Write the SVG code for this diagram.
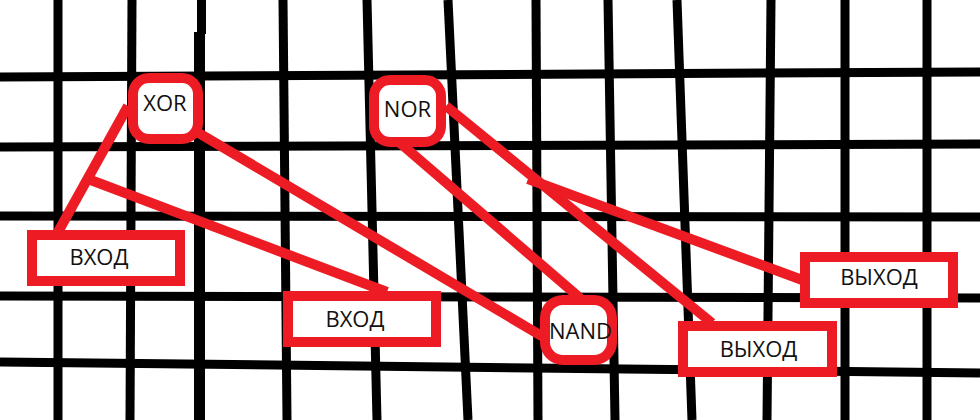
<svg xmlns="http://www.w3.org/2000/svg" width="980" height="420" viewBox="0 0 980 420">
  <style>
    .g { stroke: #000; stroke-width: 9; fill: none; }
    .c { stroke: #ED1C24; stroke-width: 10; fill: none; }
    .n { fill: #fff; stroke: #ED1C24; stroke-width: 10; }
    .t { font-family: "Open Sans", "Noto Sans", "Liberation Sans", sans-serif; font-size: 22px; fill: #111; text-anchor: middle; }
  </style>
  <rect x="0" y="0" width="980" height="420" fill="#fff"/>
  <g id="grid">
    <line class="g" x1="0" y1="77" x2="980" y2="72"/>
    <line class="g" x1="0" y1="147" x2="980" y2="144"/>
    <line class="g" x1="0" y1="216" x2="980" y2="217"/>
    <line class="g" x1="0" y1="296" x2="980" y2="298"/>
    <line class="g" x1="0" y1="362" x2="980" y2="373"/>
    <line class="g" x1="58" y1="0" x2="58" y2="420"/>
    <line class="g" x1="132" y1="0" x2="130" y2="420"/>
    <line class="g" x1="201.5" y1="0" x2="201.5" y2="34"/>
    <line class="g" x1="199.5" y1="32" x2="199.5" y2="420" style="stroke-width:11"/>
    <line class="g" x1="283" y1="0" x2="287" y2="420"/>
    <line class="g" x1="367" y1="0" x2="377" y2="420"/>
    <line class="g" x1="448" y1="0" x2="468" y2="420"/>
    <line class="g" x1="536" y1="0" x2="538" y2="420"/>
    <line class="g" x1="608" y1="0" x2="615" y2="420"/>
    <line class="g" x1="677" y1="0" x2="692" y2="420"/>
    <line class="g" x1="771" y1="0" x2="767" y2="420"/>
    <line class="g" x1="845" y1="0" x2="845" y2="420"/>
    <line class="g" x1="927" y1="0" x2="927" y2="420"/>
  </g>
  <g id="connectors">
    <line class="c" x1="128" y1="106" x2="58" y2="232"/>
    <line class="c" x1="88" y1="179" x2="387" y2="292"/>
    <line class="c" x1="197" y1="132" x2="545" y2="338"/>
    <line class="c" x1="400" y1="143" x2="580" y2="298"/>
    <line class="c" x1="446" y1="106" x2="712" y2="323"/>
    <line class="c" x1="528" y1="179" x2="805" y2="281"/>
  </g>
  <g id="xor">
    <rect class="n" x="133" y="78" width="65" height="61" rx="16"/>
    <text class="t" x="165" y="111">XOR</text>
  </g>
  <g id="nor">
    <rect class="n" x="374" y="80" width="67" height="62" rx="16"/>
    <text class="t" x="407.5" y="117">NOR</text>
  </g>
  <g id="nand">
    <rect class="n" x="545" y="300" width="67" height="60" rx="18"/>
    <text class="t" x="580.5" y="339">NAND</text>
  </g>
  <g id="input1">
    <rect class="n" x="32" y="235" width="148" height="46"/>
    <text class="t" x="99" y="265">ВХОД</text>
  </g>
  <g id="input2">
    <rect class="n" x="288" y="296" width="148" height="46"/>
    <text class="t" x="355" y="327">ВХОД</text>
  </g>
  <g id="output1">
    <rect class="n" x="805" y="257" width="148" height="46"/>
    <text class="t" x="879" y="285">ВЫХОД</text>
  </g>
  <g id="output2">
    <rect class="n" x="683" y="326" width="149" height="46"/>
    <text class="t" x="758.5" y="357">ВЫХОД</text>
  </g>
</svg>
